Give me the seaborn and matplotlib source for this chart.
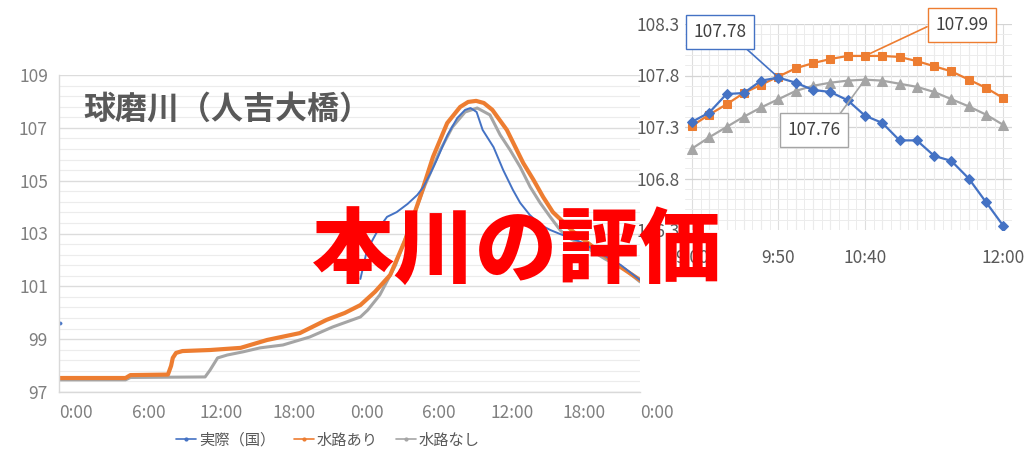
import numpy as np
import pandas as pd
import matplotlib
matplotlib.use("Agg")
import matplotlib.pyplot as plt
import matplotlib.transforms as mtransforms
from matplotlib.ticker import MultipleLocator, FixedLocator
import seaborn as sns

# --- datos grafico principal (horas desde 0:00 del primer dia, nivel de agua m) ---
horas_real_punto = [0.1]
nivel_real_punto = [99.6]
horas_real = [24.9, 25.45, 25.9, 26.5, 27.1, 27.9, 28.8, 29.6, 30.1, 30.7, 31.2, 32.1,
              32.9, 33.55, 34.0, 34.5, 35.0, 35.9, 36.7, 37.5, 38.1, 38.9, 39.8, 40.6,
              41.4, 43.1, 44.7, 46.4, 48.0]
nivel_real = [101.28, 102.38, 102.75, 103.25, 103.63, 103.81, 104.12, 104.46, 104.76,
              105.29, 105.78, 106.73, 107.37, 107.68, 107.75, 107.6, 106.92, 106.27,
              105.4, 104.65, 104.16, 103.7, 103.32, 103.13, 102.98, 102.68, 102.26,
              101.81, 101.24]

horas_con = [0.0, 5.5, 5.9, 9.0, 9.26, 9.4, 9.67, 10.2, 12.5, 15.0, 17.2, 19.9, 22.1,
             23.6, 24.9, 26.1, 27.36, 28.6, 29.83, 30.9, 32.07, 33.14, 33.8, 34.46,
             35.1, 35.8, 37.0, 38.35, 39.2, 40.0, 40.8, 41.65, 42.5, 43.9, 45.1, 46.4, 48.0]
nivel_con = [97.53, 97.53, 97.64, 97.66, 97.99, 98.29, 98.48, 98.55, 98.59, 98.67, 98.97,
             99.23, 99.73, 99.99, 100.29, 100.79, 101.43, 102.75, 104.38, 105.9, 107.18,
             107.79, 107.98, 108.02, 107.94, 107.68, 106.92, 105.67, 105.03, 104.38,
             103.81, 103.44, 103.06, 102.57, 102.15, 101.73, 101.24]

horas_sin = [0.0, 5.5, 5.9, 12.07, 12.48, 12.9, 13.1, 13.9, 15.2, 16.6, 18.5, 20.7,
             22.6, 24.9, 25.5, 26.5, 27.8, 29.0, 30.25, 31.5, 32.5, 33.55, 34.55, 35.6,
             36.45, 37.27, 38.1, 38.93, 39.75, 40.58, 41.4, 41.98, 43.5, 45.1, 46.8, 48.0]
nivel_sin = [97.46, 97.46, 97.55, 97.57, 97.83, 98.14, 98.29, 98.4, 98.52, 98.67, 98.78,
             99.08, 99.46, 99.84, 100.1, 100.67, 101.8, 103.3, 104.84, 106.16, 107.03,
             107.6, 107.75, 107.49, 106.73, 106.16, 105.52, 104.76, 104.16, 103.63,
             103.13, 102.87, 102.49, 102.04, 101.62, 101.17]

etiquetas_x = ["0:00", "6:00", "12:00", "18:00", "0:00", "6:00", "12:00", "18:00", "0:00"]
posiciones_x = [0, 6, 12, 18, 24, 30, 36, 42, 48]
ticks_y = [97, 99, 101, 103, 105, 107, 109]

# --- datos del recuadro (9:00 a 12:00 cada 10 minutos) ---
recuadro_real = [107.35, 107.44, 107.62, 107.63, 107.75, 107.78, 107.73, 107.66, 107.64,
                 107.56, 107.41, 107.34, 107.17, 107.17, 107.02, 106.97, 106.80, 106.57,
                 106.34]
recuadro_con = [107.31, 107.42, 107.52, 107.63, 107.71, 107.79, 107.87, 107.92, 107.96,
                107.99, 107.99, 107.99, 107.98, 107.94, 107.89, 107.84, 107.76, 107.68,
                107.58]
recuadro_sin = [107.09, 107.20, 107.30, 107.40, 107.49, 107.57, 107.65, 107.70, 107.73,
                107.75, 107.76, 107.75, 107.72, 107.69, 107.64, 107.57, 107.50, 107.42,
                107.32]
recuadro_ticks = [0, 5, 10, 18]
recuadro_etiquetas = ["9:00", "9:50", "10:40", "12:00"]

AZUL = "#4472C4"
NARANJA = "#ED7D31"
GRIS = "#A5A5A5"

sns.set_theme(style="white")
plt.rcParams["font.family"] = ["Noto Sans CJK JP", "DejaVu Sans"]

fig = plt.figure(figsize=(10.31, 4.51), dpi=100)

# ---------------- grafico principal ----------------
ax = fig.add_axes([59 / 1031, 1 - 392 / 451, (640 - 59) / 1031, (392 - 75) / 451])
ax.set_xlim(0, 48)
ax.set_ylim(97, 109)

ax.set_yticks(ticks_y)
ax.yaxis.set_minor_locator(FixedLocator(np.arange(97, 109.01, 0.4)))
ax.grid(which="minor", axis="y", color="#ececec", lw=0.8)
ax.grid(which="major", axis="y", color="#dcdcdc", lw=1.0)
ax.set_axisbelow(True)

sns.lineplot(x=horas_sin, y=nivel_sin, ax=ax, color=GRIS, lw=2.2, sort=False)
sns.lineplot(x=horas_con, y=nivel_con, ax=ax, color=NARANJA, lw=3.0, sort=False)
sns.lineplot(x=horas_real, y=nivel_real, ax=ax, color=AZUL, lw=1.4, sort=False)
sns.scatterplot(x=horas_real_punto, y=nivel_real_punto, ax=ax, color=AZUL, s=6,
                edgecolor=AZUL)

# etiquetas del eje x corridas a la derecha como en el original
ax.set_xticks(posiciones_x)
ax.set_xticklabels([])
desplazamiento = mtransforms.ScaledTranslation(17 / 100, -21 / 100, fig.dpi_scale_trans)
trans_x = ax.get_xaxis_transform() + desplazamiento
for pos, etiqueta in zip(posiciones_x, etiquetas_x):
    ax.text(pos, 0, etiqueta, transform=trans_x, ha="center", va="center",
            fontsize=12.5, color="#7f7f7f", clip_on=False)
ax.tick_params(axis="x", length=0)
ax.tick_params(axis="y", length=0, pad=8, labelsize=12.5, labelcolor="#7f7f7f")
for lado in ["top", "right"]:
    ax.spines[lado].set_visible(False)
for lado in ["left", "bottom"]:
    ax.spines[lado].set_color("#d9d9d9")
    ax.spines[lado].set_linewidth(1.0)
ax.set_xlabel("")
ax.set_ylabel("")

ax.text(83 / 1031, 1 - 110 / 451, "球磨川（人吉大橋）", transform=fig.transFigure,
        fontsize=23, fontweight="bold", color="#595959", ha="left", va="center")

manejadores = [
    plt.Line2D([], [], color=AZUL, lw=1.2, marker="o", ms=2),
    plt.Line2D([], [], color=NARANJA, lw=1.2, marker="o", ms=2),
    plt.Line2D([], [], color=GRIS, lw=1.2, marker="o", ms=2),
]
fig.legend(manejadores, ["実際（国）", "水路あり", "水路なし"], loc="center",
           bbox_to_anchor=(328 / 1031, 1 - 440 / 451), ncol=3, frameon=False,
           fontsize=11, handlelength=1.3, handletextpad=0.2, columnspacing=1.2,
           labelcolor="#595959")

# ---------------- recuadro ----------------
ax2 = fig.add_axes([685 / 1031, 1 - 230 / 451, (1012 - 685) / 1031, (230 - 24) / 451])
indices = np.arange(len(recuadro_con))
ax2.set_xlim(-0.4, 18.5)
ax2.set_ylim(106.3, 108.3)
ax2.xaxis.set_minor_locator(MultipleLocator(0.5))
ax2.yaxis.set_minor_locator(MultipleLocator(0.1))
ax2.grid(which="minor", color="#ececec", lw=0.7)
ax2.set_axisbelow(True)

sns.lineplot(x=indices, y=recuadro_sin, ax=ax2, color=GRIS, lw=1.6, marker="^",
             markersize=6.5, markeredgecolor=GRIS)
sns.lineplot(x=indices, y=recuadro_con, ax=ax2, color=NARANJA, lw=1.6, marker="s",
             markersize=6, markeredgecolor=NARANJA)
sns.lineplot(x=indices, y=recuadro_real, ax=ax2, color=AZUL, lw=1.6, marker="D",
             markersize=5, markeredgecolor=AZUL)

# lineas verticales en cada punto y horizontales cada 0.5
for i in indices:
    ax2.axvline(i, color="#dedede", lw=0.8, zorder=0.5)
for v in [106.8, 107.3, 107.8, 108.3]:
    ax2.axhline(v, color="#d4d4d4", lw=0.9, zorder=0.5)

ax2.set_xticks(recuadro_ticks)
ax2.set_xticklabels(recuadro_etiquetas)
ax2.set_yticks([106.3, 106.8, 107.3, 107.8, 108.3])
ax2.set_yticklabels(["106.3", "106.8", "107.3", "107.8", "108.3"])
ax2.tick_params(axis="x", length=0, pad=14, labelsize=12.5, labelcolor="#595959")
ax2.tick_params(axis="y", length=0, pad=4, labelsize=12.5, labelcolor="#595959")
for lado in ax2.spines.values():
    lado.set_visible(False)
ax2.set_xlabel("")
ax2.set_ylabel("")

anotaciones = [
    ("107.78", 5, recuadro_real[5], (1.62, 108.22), AZUL, (0.84, 0.0)),
    ("107.99", 10, recuadro_con[10], (15.6, 108.29), NARANJA, (0.0, 0.62)),
    ("107.76", 10, recuadro_sin[10], (7.05, 107.27), GRIS, (0.89, 1.0)),
]
for texto, xi, yi, pos, color, rel in anotaciones:
    ax2.annotate(texto, xy=(xi, yi), xytext=pos, ha="center", va="center",
                 fontsize=12.5, color="#404040", annotation_clip=False,
                 bbox=dict(boxstyle="square,pad=0.45", fc="white", ec=color, lw=1.0),
                 arrowprops=dict(arrowstyle="-", color=color, lw=1.2, relpos=rel,
                                 shrinkA=0, shrinkB=0))

# ---------------- texto rojo superpuesto ----------------
fig.text(517 / 1031, 1 - 251 / 451, "本川の評価", fontsize=59, fontweight="heavy",
         color="#FF0000", ha="center", va="center", zorder=10)

fig.savefig("out.png", dpi=100)
